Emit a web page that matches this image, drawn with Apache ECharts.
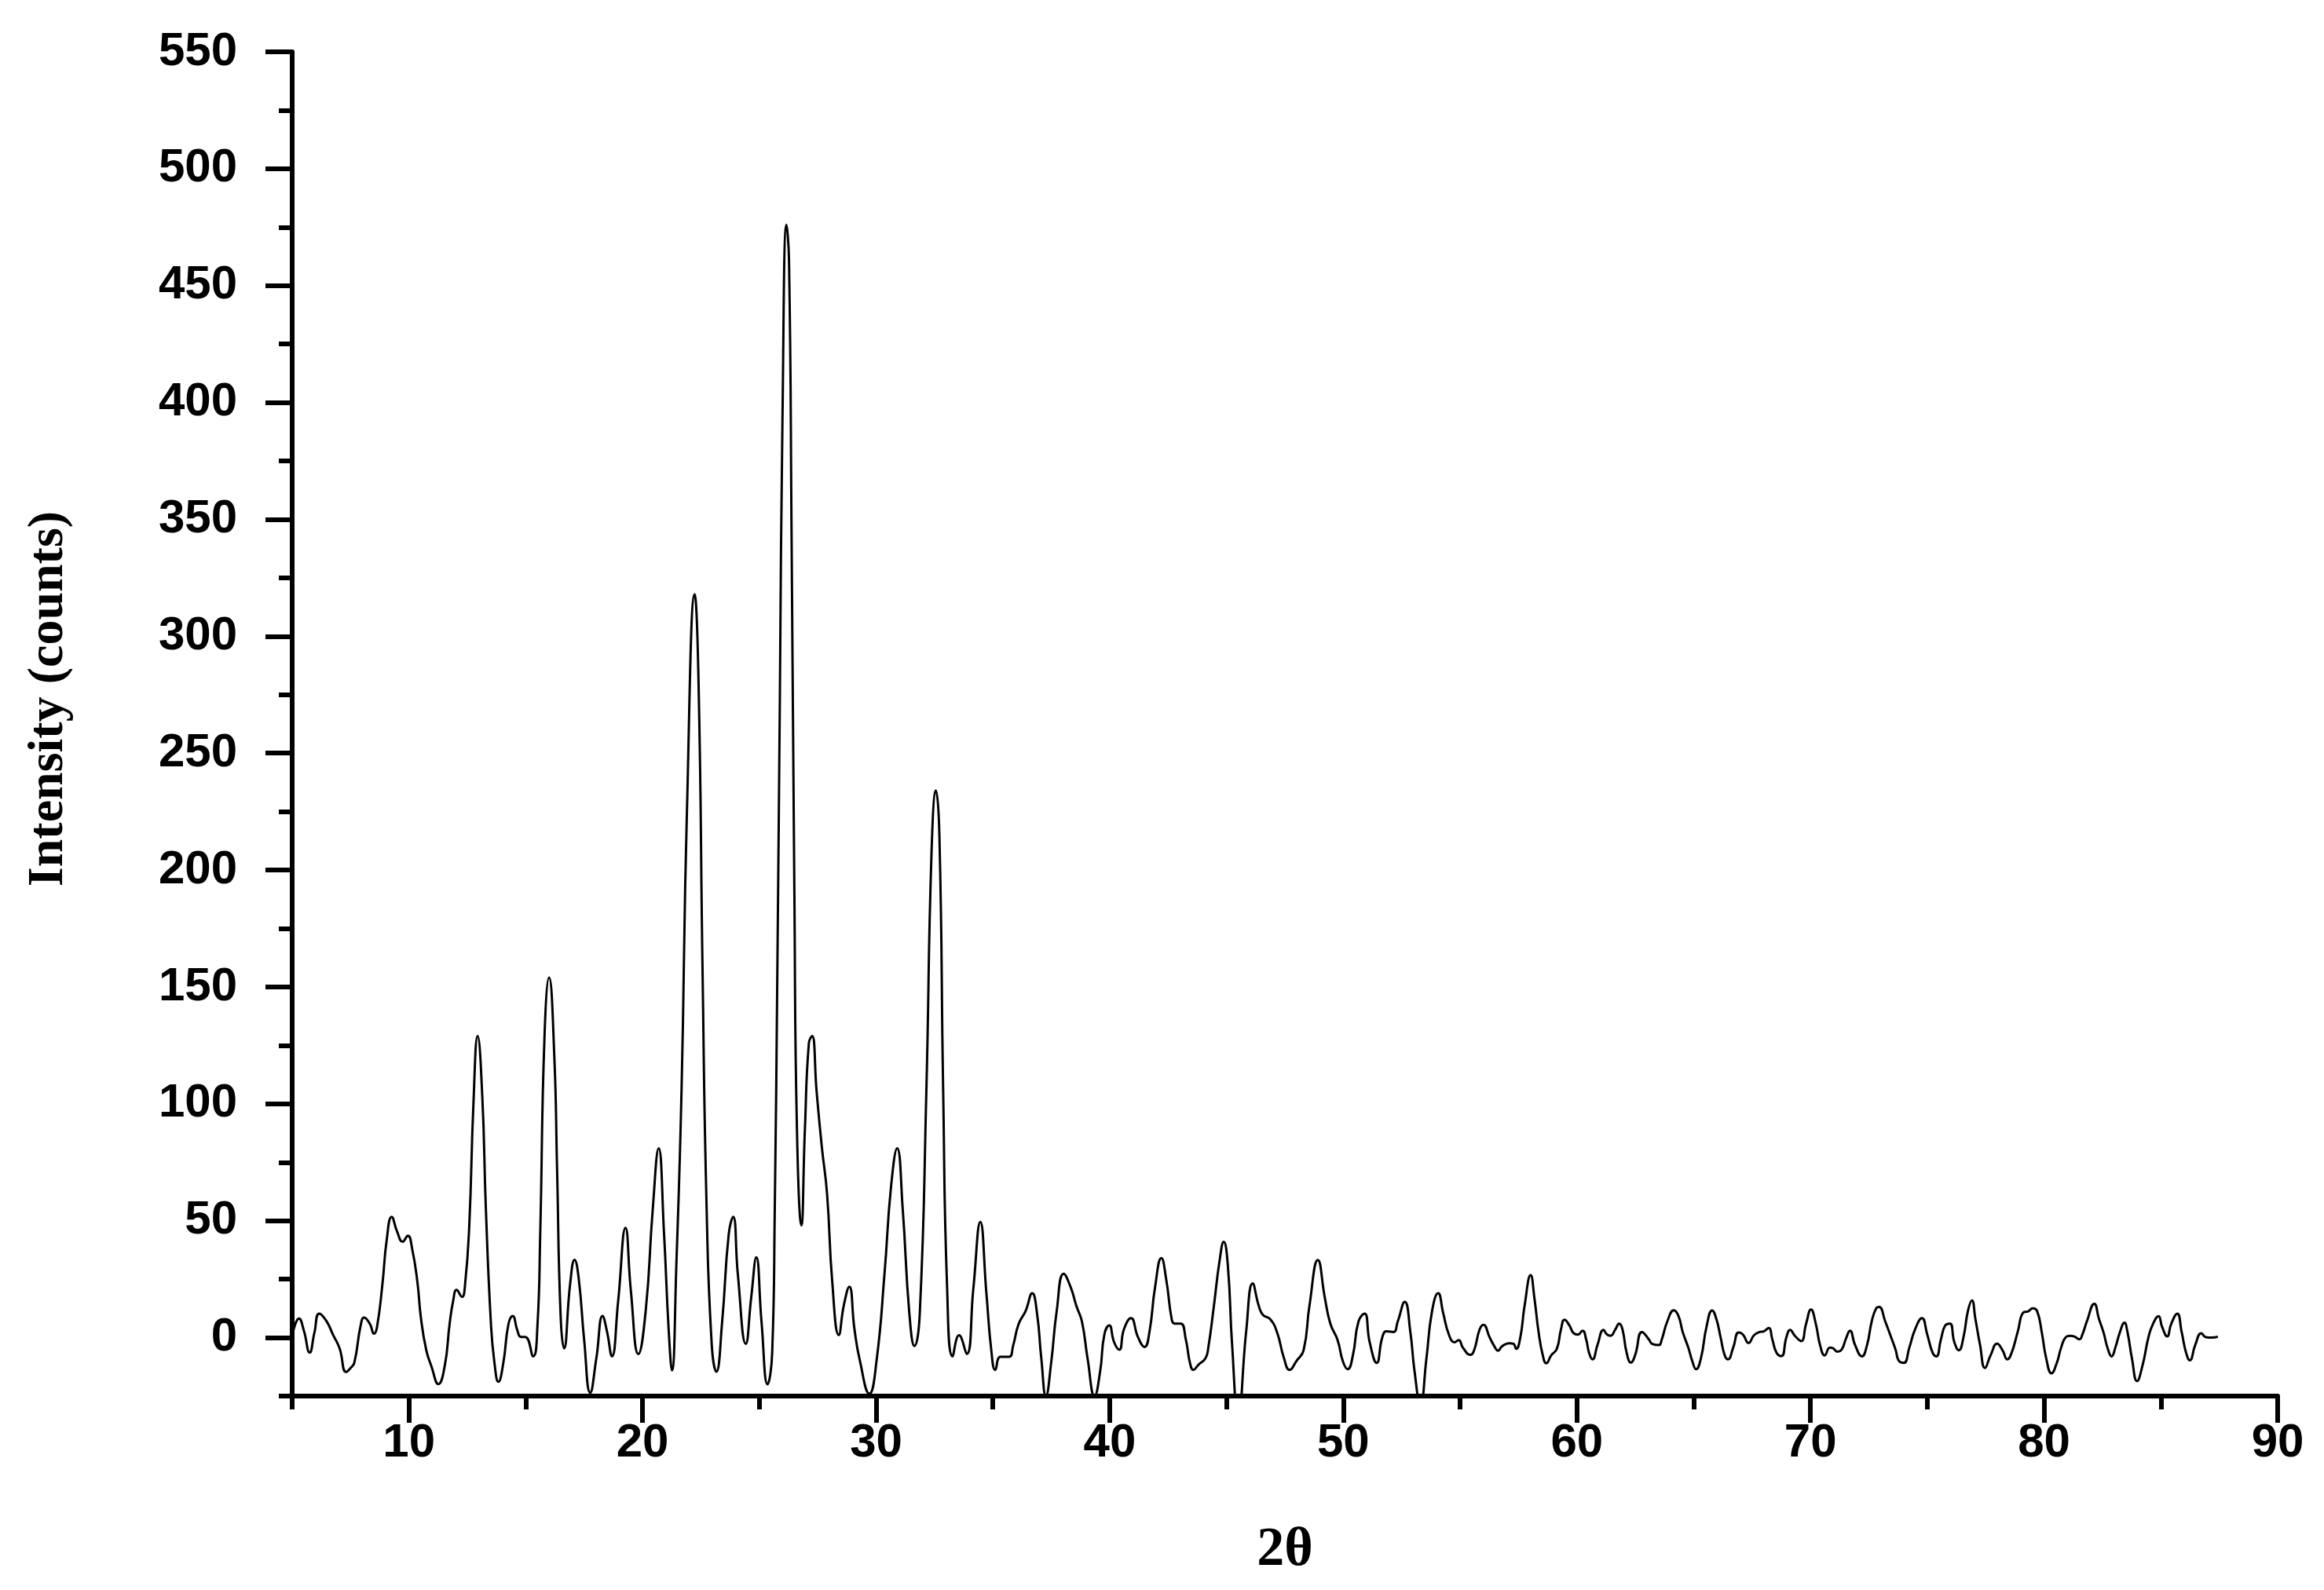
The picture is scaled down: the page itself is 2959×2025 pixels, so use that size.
<!DOCTYPE html>
<html><head><meta charset="utf-8">
<script src="https://cdn.jsdelivr.net/npm/echarts@6/dist/echarts.min.js"></script>
<style>html,body{margin:0;padding:0;background:#fff}#c{width:2959px;height:2025px}</style>
</head><body><div id="c"></div>
<script>
// XRD scan, [2θ, intensity] pairs
const scan05to15 = [[5.05,3],[5.29,8.2],[5.5,3],[5.75,-6.4],[5.95,2],[6.16,10.3],[6.46,7.2],[6.76,1],[7.03,-4.6],[7.31,-14.7],[7.5,-13],[7.66,-10.8],[7.93,5.1],[8.08,8.6],[8.33,5.8],[8.5,1.7],[8.63,4.4],[8.86,22.5],[9.05,42],[9.26,51.7],[9.49,45.4],[9.73,41],[9.95,43.6],[10.14,37.8],[10.36,23.9],[10.51,8.6],[10.74,-5.3],[10.96,-12.2],[11.26,-19.9],[11.53,-12.2],[11.74,5.8],[11.89,15.6],[12.04,20.4],[12.27,17.4],[12.4,22.5],[12.58,47.5],[12.76,100],[12.94,129],[13.14,103],[13.29,55.8],[13.51,5.8],[13.66,-10.8],[13.83,-18.9],[14.04,-10.8],[14.26,5.8],[14.44,9.3],[14.64,3.1],[14.79,0.3],[14.98,0.3],[15.32,-8]];
const scan15to25 = [[15.5,5],[15.62,44.7],[15.8,128],[16.0,154],[16.22,121],[16.34,72.5],[16.49,10],[16.64,-4.6],[16.9,23],[17.09,33.3],[17.27,25],[17.5,-1],[17.76,-23.6],[18.02,-9],[18.29,9.3],[18.47,3],[18.69,-8],[18.95,15],[19.27,47],[19.5,20],[19.82,-7],[20.14,12],[20.43,54],[20.69,81],[20.92,44.5],[21.12,3],[21.26,-14],[21.45,32],[21.67,106],[21.9,225],[22.23,318],[22.4,279],[22.57,156],[22.74,56.7],[22.96,-2.7],[23.16,-14.6],[23.41,7],[23.69,44.3],[23.88,51.7],[24.08,27],[24.42,-2.7],[24.65,17],[24.87,34.4],[25.09,7.2],[25.35,-20]];
const scan25to35 = [[25.55,-6.4],[25.66,54.7],[25.77,156],[25.88,275],[25.99,393],[26.16,476],[26.27,461],[26.38,343],[26.5,190],[26.61,89],[26.8,48],[26.95,89],[27.12,126],[27.26,129],[27.45,105.5],[27.67,82],[27.9,61.4],[28.12,24],[28.4,1.1],[28.62,14],[28.85,21.8],[29.07,3.8],[29.3,-9.7],[29.71,-24],[30.02,-9.7],[30.36,27.5],[30.64,64.8],[30.9,81],[31.14,54.7],[31.42,10.6],[31.64,-3.6],[31.87,10.6],[32.15,105.5],[32.37,207],[32.56,234],[32.71,214],[32.87,105.5],[33.04,20.8],[33.27,-8],[33.55,1],[33.88,-7],[34.16,20.8],[34.46,49.5],[34.72,19],[34.94,-6.4],[35.1,-13.8],[35.32,-8.2],[35.69,-8.2]];
const scan35to53 = [[35.87,-3.2],[36.1,5.8],[36.4,11.4],[36.68,19],[36.89,10.2],[37.07,-8.8],[37.27,-25],[37.49,-11],[37.73,11.4],[38.03,27.3],[38.33,21.5],[38.57,13.6],[38.81,6.9],[39.05,-8.8],[39.35,-25],[39.59,-14.4],[39.77,1.3],[39.98,5.2],[40.19,-2],[40.41,-5.2],[40.61,3.6],[40.91,8.3],[41.21,0.2],[41.49,-4],[41.7,2.4],[41.94,21.5],[42.21,34],[42.42,24.8],[42.66,7.5],[42.78,6],[43.04,6],[43.26,-0.9],[43.44,-11],[43.58,-13.8],[43.8,-11.6],[44.1,-8.8],[44.22,-4.3],[44.46,13.6],[44.7,32.7],[44.88,41],[45.06,30.4],[45.24,-3.2],[45.5,-34],[45.84,2.4],[46.12,23.2],[46.38,13.6],[46.56,9.7],[46.86,8],[47.16,2.4],[47.46,-8.8],[47.7,-13.8],[48.0,-9.9],[48.3,-5.4],[48.55,13.6],[48.91,33.2],[49.21,17],[49.45,5.8],[49.75,-0.9],[49.99,-10.4],[50.19,-13.5],[50.41,-7.6],[50.65,6.9],[50.91,10.3],[51.13,-2],[51.43,-10.8],[51.67,0.2],[51.85,2.7],[52.15,2.4],[52.33,6.9],[52.63,15.3],[52.87,2.4],[53.05,-14.4]];
const scan53to71 = [[53.3,-29],[53.56,-8.8],[53.8,11.4],[54.06,19],[54.28,10.3],[54.52,1.3],[54.76,-2],[54.94,-1.1],[55.12,-4.3],[55.44,-7.4],[55.6,-5.4],[55.84,3.6],[56.0,5.5],[56.26,0.2],[56.5,-4.3],[56.62,-5.6],[56.8,-3.7],[57.1,-2.4],[57.28,-2.6],[57.4,-4.8],[57.58,0.2],[57.76,13.6],[58.02,26.7],[58.18,17],[58.36,2.4],[58.54,-7.6],[58.69,-11],[58.9,-7.6],[59.14,-4.8],[59.32,3.6],[59.47,7.7],[59.68,5.2],[59.86,1.9],[60.04,1.3],[60.24,3],[60.4,-0.9],[60.52,-6.5],[60.67,-9.3],[60.88,-3.2],[61.14,3.3],[61.29,1.3],[61.44,0.8],[61.65,3.6],[61.81,6],[61.95,3.6],[62.13,-6.5],[62.31,-10.7],[62.49,-7.6],[62.79,2.4],[63.09,-0.9],[63.21,-2.6],[63.51,-3.2],[63.63,-0.9],[63.87,6.9],[64.15,11.7],[64.35,9.2],[64.53,2.4],[64.77,-4.3],[64.95,-10.4],[65.1,-13.5],[65.31,-8.8],[65.55,4.7],[65.79,11.6],[65.97,8],[66.15,0.2],[66.33,-7.6],[66.47,-9.3],[66.69,-4.3],[66.93,2.2],[67.11,1.3],[67.35,-2.3],[67.59,1.1],[67.83,2.4],[68.0,2.7],[68.21,4.1],[68.37,-0.9],[68.55,-6.5],[68.76,-7.9],[68.97,0.2],[69.13,3.3],[69.33,0.8],[69.6,-1.5],[69.81,5.8],[70.02,12],[70.23,5.8],[70.41,-3.2],[70.61,-7.6],[70.83,-4.3],[70.95,-4.5]];
const scan71to88 = [[71.15,-6],[71.33,-5.2],[71.52,-0.4],[71.69,3],[71.91,-3.2],[72.2,-8],[72.42,-3.2],[72.62,6.9],[72.81,12.5],[72.94,13.1],[73.2,6.9],[73.45,0.2],[73.65,-5.4],[73.78,-9.9],[74.0,-10.8],[74.23,-4.3],[74.48,3.6],[74.77,8.3],[75.0,1.3],[75.23,-6.5],[75.39,-8],[75.58,-0.9],[75.77,5.2],[75.97,6],[76.16,-2],[76.35,-5.4],[76.55,0.2],[76.74,11.4],[76.91,15.9],[77.06,8],[77.26,-3.2],[77.47,-13],[77.71,-7.6],[77.99,-2.6],[78.22,-5.4],[78.43,-9.3],[78.61,-6.5],[78.87,2.4],[79.12,10.8],[79.32,11.2],[79.51,12.5],[79.7,11.4],[79.9,2.4],[80.09,-8.8],[80.32,-15.3],[80.54,-11],[80.73,-4.3],[80.93,0.2],[81.12,0.8],[81.31,0.4],[81.51,-0.7],[81.64,1.3],[81.83,6.9],[82.15,14.5],[82.35,8],[82.54,2.4],[82.73,-4.8],[82.89,-8],[83.05,-4.3],[83.25,2.4],[83.44,6.4],[83.57,2.4],[83.76,-8.8],[83.98,-18.6],[84.21,-12.1],[84.47,0.2],[84.66,5.8],[84.9,9.2],[85.05,4.7],[85.27,0.5],[85.44,5.8],[85.7,10.3],[85.89,2.4],[86.08,-6.5],[86.24,-9.7],[86.47,-3.2],[86.73,1.9],[86.92,0.2],[87.18,0],[87.44,0.4]];

const yMajorTicks = [0,50,100,150,200,250,300,350,400,450,500,550];
const yMinorTicks = [-25,25,75,125,175,225,275,325,375,425,475,525];
const xMajorTicks = [10,20,30,40,50,60,70,80,90];
const xMinorTicks = [5,15,25,35,45,55,65,75,85];
const xAxisTitle = '2θ';
const yAxisTitle = 'Intensity (counts)';

const scanData = [].concat(scan05to15, scan15to25, scan25to35, scan35to53, scan53to71, scan71to88);

const labelFont = {fontFamily:'Liberation Sans', fontWeight:'bold', fontSize:60, color:'#000'};
const titleFont = {fontFamily:'Liberation Serif', fontWeight:'bold', fontSize:64, color:'#000'};

const chart = echarts.init(document.getElementById('c'), null, {renderer:'canvas'});
chart.setOption({
  animation:false,
  backgroundColor:'#fff',
  grid:{left:372, right:59, top:66, bottom:247, containLabel:false},
  xAxis:[{
    type:'value', min:5, max:90, position:'bottom',
    axisLine:{show:true, onZero:false, lineStyle:{color:'#000', width:6}},
    axisTick:{show:true, customValues:xMajorTicks, length:34, lineStyle:{color:'#000', width:6}},
    axisLabel:Object.assign({customValues:xMajorTicks, margin:30}, labelFont),
    splitLine:{show:false},
    name:xAxisTitle, nameLocation:'middle', nameGap:162,
    nameTextStyle:Object.assign({}, titleFont, {fontSize:70})
  },{
    type:'value', min:5, max:90, position:'bottom',
    axisLine:{show:false, onZero:false},
    axisTick:{show:true, customValues:xMinorTicks, length:17, lineStyle:{color:'#000', width:6}},
    axisLabel:{show:false}, splitLine:{show:false}
  }],
  yAxis:[{
    type:'value', min:-25, max:550, position:'left',
    axisLine:{show:true, onZero:false, lineStyle:{color:'#000', width:6}},
    axisTick:{show:true, customValues:yMajorTicks, length:34, lineStyle:{color:'#000', width:6}},
    axisLabel:Object.assign({customValues:yMajorTicks, margin:70}, labelFont),
    splitLine:{show:false},
    name:yAxisTitle, nameLocation:'middle', nameGap:278, nameRotate:90,
    nameTextStyle:Object.assign({}, titleFont, {padding:[0,0,0,64]})
  },{
    type:'value', min:-25, max:550, position:'left',
    axisLine:{show:false, onZero:false},
    axisTick:{show:true, customValues:yMinorTicks, length:17, lineStyle:{color:'#000', width:6}},
    axisLabel:{show:false}, splitLine:{show:false}
  }],
  series:[{
    type:'line', xAxisIndex:0, yAxisIndex:0,
    data:scanData, showSymbol:false, symbol:'none',
    smooth:0.5, clip:true,
    lineStyle:{color:'#000', width:3}
  }]
});
</script></body></html>
